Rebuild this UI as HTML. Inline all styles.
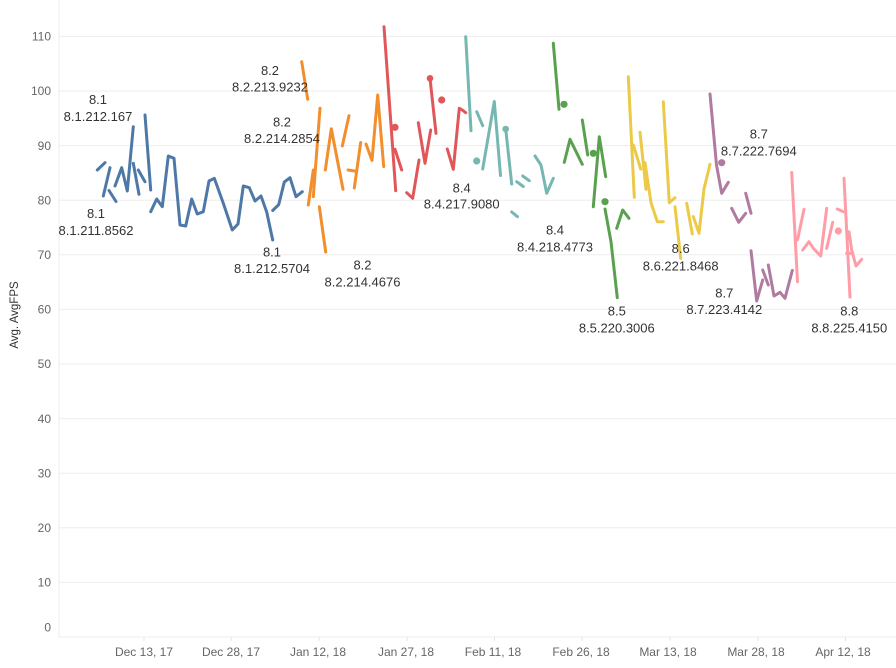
<!DOCTYPE html>
<html><head><meta charset="utf-8"><style>
html,body{margin:0;padding:0;background:#fff;}
svg{display:block;}
text{font-family:"Liberation Sans",sans-serif;}
.yt{font-size:12px;fill:#666;text-anchor:end;}
.xt{font-size:12px;fill:#666;text-anchor:middle;}
.lb{font-size:13px;fill:#333;text-anchor:middle;}
.g{stroke:#ededed;stroke-width:1;}
polyline{fill:none;stroke-width:3;stroke-linejoin:round;stroke-linecap:round;}
.b{stroke:#4e79a7;}.o{stroke:#f28e2b;}.r{stroke:#e15759;}.t{stroke:#76b7b2;}
.gr{stroke:#59a14f;}.y{stroke:#edc948;}.p{stroke:#b07aa1;}.k{stroke:#ff9da7;}
</style></head><body>
<svg width="896" height="668" viewBox="0 0 896 668" xmlns="http://www.w3.org/2000/svg">
<!-- gridlines -->
<g class="g">
<line x1="59" y1="36.4" x2="896" y2="36.4"/>
<line x1="59" y1="91" x2="896" y2="91"/>
<line x1="59" y1="145.6" x2="896" y2="145.6"/>
<line x1="59" y1="200.2" x2="896" y2="200.2"/>
<line x1="59" y1="254.8" x2="896" y2="254.8"/>
<line x1="59" y1="309.4" x2="896" y2="309.4"/>
<line x1="59" y1="364" x2="896" y2="364"/>
<line x1="59" y1="418.6" x2="896" y2="418.6"/>
<line x1="59" y1="473.2" x2="896" y2="473.2"/>
<line x1="59" y1="527.8" x2="896" y2="527.8"/>
<line x1="59" y1="582.4" x2="896" y2="582.4"/>
<line x1="59" y1="637" x2="896" y2="637"/>
<line x1="59" y1="0" x2="59" y2="637"/>
</g>
<g stroke="#e4e4e4" stroke-width="1">
<line x1="144" y1="637" x2="144" y2="641"/><line x1="231" y1="637" x2="231" y2="641"/>
<line x1="319" y1="637" x2="319" y2="641"/><line x1="407" y1="637" x2="407" y2="641"/>
<line x1="494.5" y1="637" x2="494.5" y2="641"/><line x1="582" y1="637" x2="582" y2="641"/>
<line x1="670" y1="637" x2="670" y2="641"/><line x1="758" y1="637" x2="758" y2="641"/>
<line x1="845.5" y1="637" x2="845.5" y2="641"/>
</g>
<!-- y ticks -->
<text class="yt" x="51" y="40.6">110</text>
<text class="yt" x="51" y="95.2">100</text>
<text class="yt" x="51" y="149.8">90</text>
<text class="yt" x="51" y="204.4">80</text>
<text class="yt" x="51" y="259">70</text>
<text class="yt" x="51" y="313.6">60</text>
<text class="yt" x="51" y="368.2">50</text>
<text class="yt" x="51" y="422.8">40</text>
<text class="yt" x="51" y="477.4">30</text>
<text class="yt" x="51" y="532">20</text>
<text class="yt" x="51" y="586.6">10</text>
<text class="yt" x="51" y="631.5">0</text>
<text x="18" y="315" transform="rotate(-90 18 315)" font-size="11.5" fill="#333" text-anchor="middle">Avg. AvgFPS</text>
<!-- x ticks -->
<text class="xt" x="144" y="656">Dec 13, 17</text>
<text class="xt" x="231" y="656">Dec 28, 17</text>
<text class="xt" x="318" y="656">Jan 12, 18</text>
<text class="xt" x="406" y="656">Jan 27, 18</text>
<text class="xt" x="493" y="656">Feb 11, 18</text>
<text class="xt" x="581" y="656">Feb 26, 18</text>
<text class="xt" x="668" y="656">Mar 13, 18</text>
<text class="xt" x="756" y="656">Mar 28, 18</text>
<text class="xt" x="843" y="656">Apr 12, 18</text>

<!-- blue -->
<polyline class="b" points="97.3,170 105,162.7"/>
<polyline class="b" points="103.3,196 110,167.7"/>
<polyline class="b" points="109,190.5 116,201.5"/>
<polyline class="b" points="115,186 121.7,167.7 127.3,191 133.3,126.7"/>
<polyline class="b" points="133.3,163.3 139,194.3"/>
<polyline class="b" points="138.3,170 145,181.7"/>
<polyline class="b" points="145,115 150.7,190"/>
<polyline class="b" points="150.7,211.7 156.7,199 162.3,206.7 168.3,156 174,158.3 180,225 185.7,226 191.7,199 197.3,214 203.3,211.7 209,181 214.3,178.3 223.3,203.3 232.3,230 238,224 243.3,186 249.3,187.7 255,201 261,196 266.7,212 272.7,240"/>
<polyline class="b" points="272.7,210.5 278.7,204.7 284.3,182 290,177.7 296,196.7 302.3,191.7"/>
<!-- orange -->
<polyline class="o" points="301.7,61.7 307.7,99.3"/>
<polyline class="o" points="308.3,205 313.3,170"/>
<polyline class="o" points="313.3,196.7 320,108.3"/>
<polyline class="o" points="319.3,206.7 325.7,252"/>
<polyline class="o" points="325.3,170 331.3,128.7 343,189.3"/>
<polyline class="o" points="342.3,146 349,115.7"/>
<polyline class="o" points="348,170 354.5,171"/>
<polyline class="o" points="354.3,188 360.7,142.5"/>
<polyline class="o" points="366,144 372,160.5 377.7,95 383.7,166.5"/>
<!-- red -->
<polyline class="r" points="384,26.7 395.7,190.7"/>
<circle cx="395" cy="127.3" r="3.6" fill="#e15759"/>
<polyline class="r" points="395,149.3 401.7,170"/>
<polyline class="r" points="406.7,192.7 412.7,198.3 419,160"/>
<polyline class="r" points="418.3,122.7 425,163.3 430.7,130"/>
<polyline class="r" points="430,78.3 436,133.3"/>
<circle cx="430" cy="78.3" r="3.3" fill="#e15759"/>
<circle cx="441.7" cy="100" r="3.6" fill="#e15759"/>
<polyline class="r" points="447.3,149 453.3,169.3 459.3,108.3 462.3,110 465.7,112.7"/>
<!-- teal -->
<polyline class="t" points="465.7,36.7 471,130.7"/>
<circle cx="476.7" cy="161" r="3.6" fill="#76b7b2"/>
<polyline class="t" points="476.7,111.7 482.7,125.7"/>
<polyline class="t" points="482.7,169 494.3,101.5 500.5,175.5"/>
<polyline class="t" points="505.7,129 511.7,184"/>
<circle cx="505.7" cy="129" r="3.3" fill="#76b7b2"/>
<polyline class="t" points="511.7,212 517.5,216.7"/>
<polyline class="t" points="516.7,181.7 523.3,186.5"/>
<polyline class="t" points="522.7,176 529.3,180.7"/>
<polyline class="t" points="535,156 541,165 546.7,193.3 553.3,178.3"/>
<!-- green -->
<polyline class="gr" points="553.3,43.3 559,109.3"/>
<circle cx="564" cy="104.3" r="3.6" fill="#59a14f"/>
<polyline class="gr" points="564.3,162.3 570,139.3 582.3,164.3"/>
<polyline class="gr" points="582.3,120 587.7,155"/>
<circle cx="593.3" cy="153.3" r="3.6" fill="#59a14f"/>
<polyline class="gr" points="593.3,206.7 599.3,136.7 605.7,176.7"/>
<circle cx="605" cy="201.7" r="3.6" fill="#59a14f"/>
<polyline class="gr" points="605,209 611,241.7 617.3,297.7"/>
<polyline class="gr" points="616.7,228.3 622.7,210 629,218.3"/>
<!-- yellow -->
<polyline class="y" points="628.3,76.7 634.3,197.3"/>
<polyline class="y" points="633.3,145 640.7,169"/>
<polyline class="y" points="640,132.3 646,189.3"/>
<polyline class="y" points="645,162.7 651,202.7 657.3,221.7 663.3,221.7"/>
<polyline class="y" points="663.3,101.7 669.3,202.7 675,197.7"/>
<polyline class="y" points="675,206.7 680.7,258.3"/>
<polyline class="y" points="686.7,203.3 692.3,234"/>
<polyline class="y" points="693.3,216.7 699,233.3 704,189 710,164.3"/>
<!-- purple -->
<polyline class="p" points="710,94 716.5,165 721.7,193.3 728.3,182.3"/>
<circle cx="721.7" cy="162.7" r="3.6" fill="#b07aa1"/>
<polyline class="p" points="731.7,208.3 738.7,222.3 745.7,213.3"/>
<polyline class="p" points="745.7,193.3 751,213.3"/>
<polyline class="p" points="751,250.7 756.7,301 762.7,280"/>
<polyline class="p" points="762.7,270 768.3,285"/>
<polyline class="p" points="768.3,265 774,296 780,292.3 785,298.3 792.3,270.5"/>
<!-- pink -->
<polyline class="k" points="791.7,172.5 797.5,281.7"/>
<polyline class="k" points="797.5,240 804,209.3"/>
<polyline class="k" points="802.7,250 809,241.7 813.3,248.3 820.7,256 826.7,208.3"/>
<polyline class="k" points="826.7,248.3 832.7,222.3"/>
<circle cx="838.3" cy="231" r="3.6" fill="#ff9da7"/>
<polyline class="k" points="837.3,209 843.3,211.7"/>
<polyline class="k" points="844,178.3 850,297"/>
<polyline class="k" points="849,231.7 851.7,250 856,266 861.7,259.3"/>
<polyline class="k" points="846.7,253.3 852.7,253.3"/>

<!-- labels -->
<text class="lb" x="98" y="104">8.1</text><text class="lb" x="98" y="121">8.1.212.167</text>
<text class="lb" x="96" y="218">8.1</text><text class="lb" x="96" y="235">8.1.211.8562</text>
<text class="lb" x="270" y="75">8.2</text><text class="lb" x="270" y="91.5">8.2.213.9232</text>
<text class="lb" x="282" y="126.5">8.2</text><text class="lb" x="282" y="143">8.2.214.2854</text>
<text class="lb" x="272" y="256.5">8.1</text><text class="lb" x="272" y="273">8.1.212.5704</text>
<text class="lb" x="362.5" y="269.7">8.2</text><text class="lb" x="362.5" y="286.4">8.2.214.4676</text>
<text class="lb" x="461.7" y="192.4">8.4</text><text class="lb" x="461.7" y="208.7">8.4.217.9080</text>
<text class="lb" x="555" y="234.7">8.4</text><text class="lb" x="555" y="251.4">8.4.218.4773</text>
<text class="lb" x="616.8" y="315.7">8.5</text><text class="lb" x="616.8" y="332.4">8.5.220.3006</text>
<text class="lb" x="680.7" y="253">8.6</text><text class="lb" x="680.7" y="270.4">8.6.221.8468</text>
<text class="lb" x="758.8" y="138.7">8.7</text><text class="lb" x="758.8" y="155.4">8.7.222.7694</text>
<text class="lb" x="724.3" y="297.4">8.7</text><text class="lb" x="724.3" y="314">8.7.223.4142</text>
<text class="lb" x="849.3" y="315.7">8.8</text><text class="lb" x="849.3" y="332.4">8.8.225.4150</text>
</svg>
</body></html>
